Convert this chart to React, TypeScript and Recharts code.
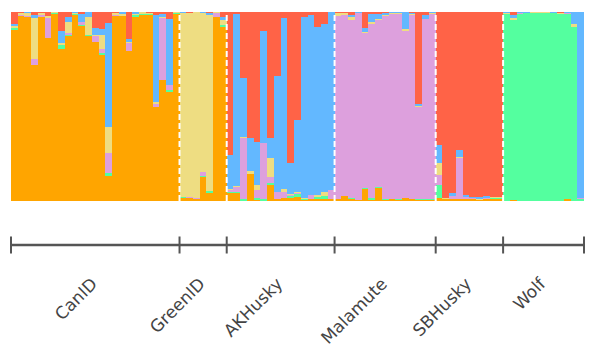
import { Bar, BarChart, ReferenceLine, XAxis, YAxis } from "recharts";

// ancestry proportions per individual, stacked bottom -> top
const orange = [
  0.91, 0.978, 0.974, 0.72, 0.975, 0.862, 0.989, 0.804, 0.875, 0.984, 0.926, 0.873, 0.841, 0.774, 0.134, 0.979, 0.979, 0.794, 0.974, 0.984, 0.984, 0.497, 0.64, 0.578, 0.99,
  0.018, 0.015, 0.012, 0.127, 0.042, 0.974, 0.92,
  0.042, 0.042, 0, 0.145, 0.005, 0, 0.085, 0.01, 0.016, 0.015, 0.023, 0.005, 0.011, 0.01, 0.011, 0.01,
  0.011, 0.026, 0.01, 0.005, 0.063, 0.005, 0.069, 0.006, 0.009, 0.005, 0.015, 0.01, 0.005, 0.006, 0.005,
  0.016, 0.011, 0.01, 0.011, 0.01, 0.011, 0.006, 0.01, 0.011, 0.011,
  0, 0.006, 0, 0, 0, 0, 0, 0, 0, 0.01, 0, 0,
];
const green = [
  0.01, 0, 0, 0, 0, 0, 0.005, 0.019, 0.004, 0.005, 0.005, 0.005, 0, 0.007, 0.012, 0, 0, 0, 0.01, 0.008, 0.005, 0, 0, 0.011, 0.003,
  0.005, 0, 0, 0.007, 0.01, 0, 0.01,
  0.005, 0.005, 0.01, 0, 0.01, 0.01, 0.01, 0, 0, 0.01, 0.012, 0.005, 0, 0.01, 0.016, 0,
  0, 0, 0.005, 0, 0.005, 0.01, 0.005, 0.005, 0.003, 0.005, 0, 0, 0.005, 0.005, 0.005,
  0.069, 0, 0, 0, 0, 0, 0, 0, 0.005, 0.005,
  0.99, 0.952, 0.99, 0.995, 0.995, 0.995, 0.995, 0.995, 0.99, 0.98, 0.921, 0.011,
];
const plum = [
  0, 0.005, 0.007, 0.032, 0.007, 0.108, 0, 0, 0.009, 0, 0.016, 0, 0.032, 0.023, 0.108, 0.005, 0, 0.042, 0, 0, 0, 0.016, 0.328, 0.025, 0,
  0, 0.007, 0.004, 0.019, 0, 0.019, 0,
  0.01, 0.026, 0.323, 0, 0.042, 0.296, 0.032, 0.037, 0.032, 0.005, 0.005, 0, 0.021, 0, 0, 0.048,
  0.968, 0.958, 0.942, 0.99, 0.82, 0.92, 0.884, 0.968, 0.98, 0.985, 0.884, 0.98, 0.49, 0.952, 0.985,
  0.053, 0, 0.016, 0.217, 0.011, 0.005, 0, 0.005, 0, 0,
  0, 0, 0.005, 0, 0, 0, 0, 0, 0.002, 0.005, 0, 0.005,
];
const khaki = [
  0.01, 0.012, 0.012, 0.217, 0.012, 0.009, 0.005, 0.012, 0.06, 0.005, 0, 0.095, 0.005, 0.074, 0.138, 0.01, 0.01, 0.005, 0.005, 0.008, 0.004, 0.011, 0.005, 0, 0.007,
  0.97, 0.975, 0.984, 0.84, 0.93, 0.007, 0.026,
  0.008, 0.005, 0.005, 0.011, 0.026, 0, 0.1, 0, 0.016, 0.009, 0.007, 0.005, 0, 0.01, 0.021, 0,
  0.016, 0.01, 0.016, 0, 0.005, 0.011, 0.005, 0.005, 0.005, 0.005, 0.011, 0.005, 0.005, 0, 0.005,
  0.063, 0.005, 0, 0.005, 0, 0, 0.005, 0, 0.005, 0.005,
  0.007, 0.01, 0, 0, 0.003, 0.005, 0.005, 0, 0.005, 0, 0.016, 0,
];
const blue = [
  0.01, 0, 0.007, 0.016, 0, 0, 0, 0.065, 0.026, 0.005, 0.042, 0.026, 0.037, 0.032, 0.55, 0.003, 0.011, 0.016, 0.011, 0, 0, 0.46, 0.016, 0.349, 0,
  0.007, 0, 0, 0.007, 0.011, 0, 0.016,
  0.18, 0.911, 0.312, 0.175, 0.228, 0.593, 0.106, 0.614, 0.904, 0.162, 0.381, 0.958, 0.952, 0.889, 0.889, 0.942,
  0, 0, 0.01, 0.005, 0.021, 0.042, 0.026, 0.011, 0.003, 0.005, 0.09, 0.005, 0.011, 0.021, 0.005,
  0.095, 0, 0.016, 0.037, 0.011, 0.005, 0.01, 0.011, 0, 0,
  0.003, 0.016, 0.005, 0.005, 0.002, 0, 0, 0.005, 0, 0.003, 0.063, 0.984,
];
const red = [
  0.065, 0.005, 0, 0.016, 0.005, 0.021, 0, 0.1, 0.026, 0.002, 0.011, 0, 0.085, 0.09, 0.058, 0.003, 0, 0.143, 0, 0, 0.007, 0.016, 0.011, 0.037, 0,
  0, 0.003, 0, 0, 0.007, 0, 0.026,
  0.757, 0.011, 0.35, 0.667, 0.688, 0.1, 0.667, 0.339, 0.032, 0.799, 0.571, 0.026, 0.016, 0.079, 0.063, 0,
  0.005, 0.005, 0.016, 0, 0.085, 0.011, 0.011, 0.005, 0, 0, 0, 0.005, 0.487, 0.016, 0,
  0.704, 0.984, 0.958, 0.73, 0.968, 0.979, 0.979, 0.974, 0.979, 0.979,
  0, 0.016, 0, 0, 0, 0, 0, 0, 0.005, 0.002, 0, 0,
];

const groupNames = ["CanID", "GreenID", "AKHusky", "Malamute", "SBHusky", "Wolf"];
const groupSizes = [25, 7, 16, 15, 10, 12];

const series = [
  { key: "orange", color: "#FFA500" },
  { key: "green", color: "#54FF9F" },
  { key: "plum", color: "#DDA0DD" },
  { key: "khaki", color: "#EEDD82" },
  { key: "blue", color: "#63B8FF" },
  { key: "red", color: "#FF6347" },
];

// pos = centre of each individual on a 0..N scale, so group borders fall on whole numbers
const data = orange.map((_, i) => ({
  id: i,
  pos: i + 0.5,
  orange: orange[i],
  green: green[i],
  plum: plum[i],
  khaki: khaki[i],
  blue: blue[i],
  red: red[i],
}));

const total = groupSizes.reduce((a, b) => a + b, 0);
const bounds: number[] = [0];
groupSizes.forEach((s) => bounds.push(bounds[bounds.length - 1] + s));
const centers = groupSizes.map((s, i) => bounds[i] + s / 2);

const W = 590;
const H = 354;
const margin = { top: 12, right: 6, left: 11, bottom: 0 };
const barSize = (W - margin.left - margin.right) / total - 0.001;

function GroupTick(props: any) {
  const { x, y, payload } = props;
  const v = payload.value;
  const gi = centers.indexOf(v);
  if (gi < 0) {
    return <line x1={x} x2={x} y1={y - 8.5} y2={y + 8.5} stroke="#555" strokeWidth={2} />;
  }
  const tx = x + 3;
  const ty = y + 40;
  return (
    <text
      x={tx}
      y={ty}
      textAnchor="end"
      transform={`rotate(-45, ${tx}, ${ty})`}
      fontSize={17}
      fill="#444"
      fontFamily="DejaVu Sans"
    >
      {groupNames[gi]}
    </text>
  );
}

export default function App() {
  return (
    <div style={{ position: "absolute", left: 0, top: 0, background: "#fff" }}>
      <BarChart
        width={W}
        height={H}
        data={data}
        stackOffset="expand"
        barCategoryGap={0}
        barGap={0}
        margin={margin}
      >
        {/* spacer axis: pushes the group axis down below the plot */}
        <XAxis xAxisId="gap" dataKey="id" tick={false} axisLine={false} tickLine={false} height={44} />
        <XAxis
          xAxisId="grp"
          dataKey="pos"
          type="number"
          domain={[0, total]}
          allowDataOverflow
          ticks={[...bounds, ...centers].sort((a, b) => a - b)}
          interval={0}
          tickLine={false}
          tickSize={0}
          tickMargin={0}
          axisLine={{ stroke: "#555", strokeWidth: 2.5 }}
          tick={<GroupTick />}
          height={109}
        />
        <YAxis hide domain={[0, 1]} />
        {series.map((s) => (
          <Bar
            key={s.key}
            xAxisId="grp"
            dataKey={s.key}
            stackId="q"
            fill={s.color}
            barSize={barSize}
            shapeRendering="crispEdges"
            isAnimationActive={false}
          />
        ))}
        {bounds.slice(1, -1).map((b) => (
          <ReferenceLine key={b} xAxisId="grp" x={b} stroke="#fff" strokeWidth={2} strokeDasharray="6 3" />
        ))}
      </BarChart>
    </div>
  );
}
